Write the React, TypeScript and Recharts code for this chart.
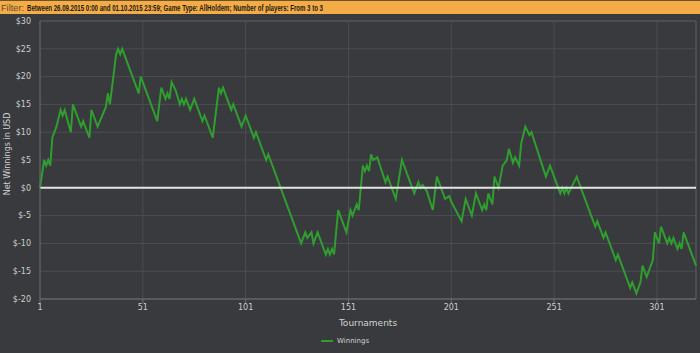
import React from "react";
import { LineChart, Line, XAxis, YAxis, CartesianGrid, ReferenceLine } from "recharts";

// vertices of the cumulative winnings line
const tournaments = [
  1, 3, 4, 5, 6, 7, 9, 11, 12, 13, 16, 17, 21, 22, 25, 26, 29, 33, 34, 35, 38, 39, 40, 41, 49, 50,
  58, 60, 62, 63, 64, 65, 67, 69, 70, 71, 72, 74, 76, 80, 81, 85, 88, 89, 90, 94, 95, 99, 101,
  105, 106, 111, 112, 128, 130, 131, 133, 134, 136, 140, 141, 142, 143, 144, 146, 150, 152, 153,
  155, 156, 158, 159, 160, 161, 162, 163, 165, 169, 170, 174, 177, 183, 185, 186, 187, 189, 192,
  194, 198, 200, 201, 206, 208, 211, 213, 216, 217, 218, 219, 221, 222, 224, 226, 228, 229, 231,
  232, 234, 235, 237, 239, 240, 247, 249, 254, 255, 256, 257, 258, 262, 271, 272, 275, 276, 281,
  282, 288, 289, 291, 293, 294, 296, 299, 300, 302, 303, 306, 307, 308, 309, 311, 312, 313, 314,
  320,
];
const winnings = [
  0, 5, 4, 5, 4, 9, 11, 14, 13, 14, 10, 15, 11, 12, 9, 14, 11, 14.5, 17, 15, 24, 25, 24, 25, 17,
  20, 12, 18, 16, 17, 16, 19, 17.5, 15, 16, 15, 16, 14, 16, 12, 13, 9, 18, 17, 18, 14, 15, 11, 13,
  9, 10, 5, 6, -10, -8, -9, -8, -10, -8, -12, -11, -12, -11, -12, -4, -8, -4, -5, -3, -4, 4, 3, 4,
  3, 6, 5, 5.5, 1, 2, -2, 5, -1, 1, 0, 0.5, -0.5, -4, 2, -2, -1.5, -2.5, -6, -2, -5, -1, -4, -3,
  -4, -1, -3, 2, 0, 4, 5, 7, 4.5, 5.5, 4, 8, 11, 9.5, 10, 2, 4, -1, 0, -1, 0, -1, 2, -7, -6, -9,
  -8, -13, -12, -18, -17, -19, -17, -14, -16, -13, -8, -10, -7, -10, -9, -10, -9, -11, -10, -11,
  -8, -14,
];
const xTicks = [1, 51, 101, 151, 201, 251, 301];
const yTicks = [-20, -15, -10, -5, 0, 5, 10, 15, 20, 25, 30];

const data = tournaments.map((t, i) => ({ t, v: winnings[i] }));

const BG = "#383a3d";
const GREEN = "#2f9e2f";
const FONT = "'DejaVu Sans', Verdana, sans-serif";
const BAR_FONT = "'Liberation Sans', Arial, sans-serif";
const tickStyle = { fill: "#cdcdcd", fontSize: 8, fontFamily: FONT };

const App: React.FC = () => (
  <div style={{ position: "absolute", left: 0, top: 0, width: 700, height: 353, background: BG, overflow: "hidden" }}>
    {/* filter bar */}
    <svg width={700} height={14} style={{ position: "absolute", left: 0, top: 0 }}>
      <rect x={0} y={0} width={700} height={14} fill="#f3ac46" />
      <rect x={0} y={0} width={700} height={1} fill="#6b5330" />
      <text x={1} y={10.5} fontSize={9} fontFamily={BAR_FONT} fill="#5e4a30" textLength={23} lengthAdjust="spacingAndGlyphs">
        Filter:
      </text>
      <text x={27} y={10.5} fontSize={9} fontFamily={BAR_FONT} fill="#1d1a15" fontWeight="bold" textLength={296} lengthAdjust="spacingAndGlyphs">
        Between 26.09.2015 0:00 and 01.10.2015 23:59; Game Type: AllHoldem; Number of players: From 3 to 3
      </text>
    </svg>

    <div style={{ position: "absolute", left: 0, top: 0 }}>
      <LineChart width={700} height={353} data={data} margin={{ top: 21, right: 4, left: 0, bottom: 24 }}>
        <CartesianGrid stroke="#4b4e51" strokeWidth={1} />
        <XAxis
          dataKey="t"
          type="number"
          domain={[1, 320]}
          ticks={xTicks}
          height={30}
          tickSize={4}
          tickMargin={1}
          stroke="#6f7275"
          tick={tickStyle}
          label={{ value: "Tournaments", position: "insideBottom", offset: 3, fill: "#d2d2d2", fontSize: 9, fontFamily: FONT }}
        />
        <YAxis
          type="number"
          domain={[-20, 30]}
          ticks={yTicks}
          width={40}
          tickLine={false}
          tickMargin={3}
          stroke="#65686b"
          tick={tickStyle}
          tickFormatter={(v: number) => `$${v}`}
          label={{
            content: () => (
              <text x={7} y={154} transform="rotate(-90, 7, 154)" textAnchor="middle" dominantBaseline="central" fill="#d2d2d2" fontSize={8} fontFamily={FONT}>
                Net Winnings in USD
              </text>
            ),
          }}
        />
        <ReferenceLine x={320} stroke="#55585b" />
        <ReferenceLine y={30} stroke="#55585b" />
        <Line type="linear" dataKey="v" stroke={GREEN} strokeWidth={2} dot={false} isAnimationActive={false} />
        <ReferenceLine y={0} stroke="#e4e4e4" strokeWidth={2} />
      </LineChart>
    </div>

    {/* legend */}
    <div style={{ position: "absolute", left: 321, top: 336, display: "flex", alignItems: "center", height: 10 }}>
      <div style={{ width: 12, height: 2, background: GREEN, marginRight: 4 }} />
      <span style={{ color: "#d0d0d0", fontSize: 7, fontFamily: FONT, lineHeight: "10px" }}>Winnings</span>
    </div>
  </div>
);

export default App;
